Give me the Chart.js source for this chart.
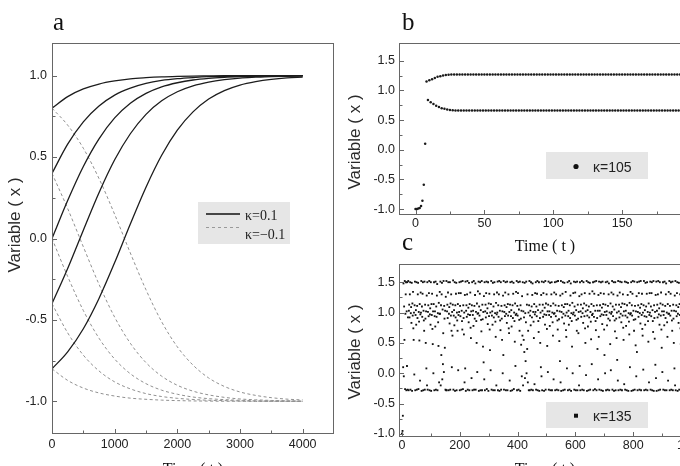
<!DOCTYPE html>
<html>
<head>
<meta charset="utf-8">
<title>Variable x vs time</title>
<script src="https://cdn.jsdelivr.net/npm/chart.js"></script>
<style>
  body { margin: 0; width: 680px; height: 466px; overflow: hidden; background: #fff; position: relative; }
  canvas { position: absolute; }
  #chartA { left: 0; top: 0; }
  #chartB { left: 340px; top: 0; }
  #chartC { left: 340px; top: 240px; }
</style>
</head>
<body>
<canvas id="chartA" width="340" height="466"></canvas>
<canvas id="chartB" width="380" height="262"></canvas>
<canvas id="chartC" width="380" height="226"></canvas>

<script>
// ---- panel a : relaxation curves, kappa = 0.1 (solid) and -0.1 (dashed)
const aTime = [0, 250, 500, 750, 1000, 1250, 1500, 1750, 2000, 2250, 2500, 2750, 3000, 3250, 3500, 3750, 4000];
const aPlus = [
    [0.8, 0.871, 0.918, 0.948, 0.967, 0.980, 0.987, 0.992, 0.995, 0.997, 0.998, 0.999, 0.999, 1.0, 1.0, 1.0, 1.0],
    [0.4, 0.579, 0.716, 0.813, 0.880, 0.923, 0.952, 0.970, 0.981, 0.988, 0.993, 0.995, 0.997, 0.998, 0.999, 0.999, 1.0],
    [0.0, 0.233, 0.442, 0.612, 0.740, 0.830, 0.891, 0.931, 0.956, 0.973, 0.983, 0.989, 0.993, 0.996, 0.997, 0.998, 0.999],
    [-0.4, -0.184, 0.051, 0.281, 0.483, 0.643, 0.762, 0.845, 0.901, 0.937, 0.960, 0.975, 0.985, 0.990, 0.994, 0.996, 0.998],
    [-0.8, -0.696, -0.554, -0.368, -0.148, 0.089, 0.315, 0.511, 0.665, 0.777, 0.856, 0.908, 0.942, 0.963, 0.977, 0.986, 0.991]
];
const aMinus = [
    [0.8, 0.696, 0.554, 0.368, 0.148, -0.089, -0.315, -0.511, -0.665, -0.777, -0.856, -0.908, -0.942, -0.963, -0.977, -0.986, -0.991],
    [0.4, 0.184, -0.051, -0.281, -0.483, -0.643, -0.762, -0.845, -0.901, -0.937, -0.960, -0.975, -0.985, -0.990, -0.994, -0.996, -0.998],
    [0.0, -0.233, -0.442, -0.612, -0.740, -0.830, -0.891, -0.931, -0.956, -0.973, -0.983, -0.989, -0.993, -0.996, -0.997, -0.998, -0.999],
    [-0.4, -0.579, -0.716, -0.813, -0.880, -0.923, -0.952, -0.970, -0.981, -0.988, -0.993, -0.995, -0.997, -0.998, -0.999, -0.999, -1.0],
    [-0.8, -0.871, -0.918, -0.948, -0.967, -0.980, -0.987, -0.992, -0.995, -0.997, -0.998, -0.999, -0.999, -1.0, -1.0, -1.0, -1.0]
];
const aTicksX = [0, 1000, 2000, 3000, 4000];
const aTicksY = [-1.0, -0.5, 0.0, 0.5, 1.0];

// ---- panel b : kappa = 105, one value per time step
const bValues = [
    -1.0, -1.0, -0.99, -0.98, -0.95, -0.86, -0.59, 0.1, 1.15, 0.84,
    1.17, 0.8, 1.19, 0.77, 1.21, 0.74, 1.23, 0.72, 1.24, 0.7,
    1.25, 0.69, 1.26, 0.68, 1.265, 0.67, 1.27, 0.665, 1.27, 0.66,
    1.27, 0.66, 1.27, 0.66, 1.27, 0.66, 1.27, 0.66, 1.27, 0.66, 1.27, 0.66, 1.27, 0.66, 1.27, 0.66, 1.27, 0.66, 1.27, 0.66,
    1.27, 0.66, 1.27, 0.66, 1.27, 0.66, 1.27, 0.66, 1.27, 0.66, 1.27, 0.66, 1.27, 0.66, 1.27, 0.66, 1.27, 0.66, 1.27, 0.66,
    1.27, 0.66, 1.27, 0.66, 1.27, 0.66, 1.27, 0.66, 1.27, 0.66, 1.27, 0.66, 1.27, 0.66, 1.27, 0.66, 1.27, 0.66, 1.27, 0.66,
    1.27, 0.66, 1.27, 0.66, 1.27, 0.66, 1.27, 0.66, 1.27, 0.66, 1.27, 0.66, 1.27, 0.66, 1.27, 0.66, 1.27, 0.66, 1.27, 0.66,
    1.27, 0.66, 1.27, 0.66, 1.27, 0.66, 1.27, 0.66, 1.27, 0.66, 1.27, 0.66, 1.27, 0.66, 1.27, 0.66, 1.27, 0.66, 1.27, 0.66,
    1.27, 0.66, 1.27, 0.66, 1.27, 0.66, 1.27, 0.66, 1.27, 0.66, 1.27, 0.66, 1.27, 0.66, 1.27, 0.66, 1.27, 0.66, 1.27, 0.66,
    1.27, 0.66, 1.27, 0.66, 1.27, 0.66, 1.27, 0.66, 1.27, 0.66, 1.27, 0.66, 1.27, 0.66, 1.27, 0.66, 1.27, 0.66, 1.27, 0.66,
    1.27, 0.66, 1.27, 0.66, 1.27, 0.66, 1.27, 0.66, 1.27, 0.66, 1.27, 0.66, 1.27, 0.66, 1.27, 0.66, 1.27, 0.66, 1.27, 0.66,
    1.27, 0.66, 1.27, 0.66, 1.27, 0.66, 1.27, 0.66, 1.27, 0.66,
    1.27
];
const bTicksX = [0, 50, 100, 150, 200];

// ---- panel c : kappa = 135, sampled every cStep time units
const cStep = 1.1;
const cValues = [
    -1.0, -0.99, -0.95, -0.7, 0.1, 1.48, -0.05, 1.1, 0.55, 1.52, -0.26, 0.98, 1.3, 1.5, -0.28, 1.02, 0.12, 1.5, -0.27, 0.92,
    1.52, -0.28, 1.03, 1.13, 0.92, 1.3, 1.5, -0.27, 0.99, 1.09, 0.83, 1.49, -0.29, 1.15, 0.95, 1.34, 0.74, 0.55, 1.0, -0.02,
    1.12, 1.51, -0.28, 0.96, 1.04, 0.8, 1.5, -0.27, 1.11, 0.91, 1.3, 1.49, -0.26, 1.01, 0.85, 0.54, 1.14, -0.12, 0.97, 1.33,
    1.0, 1.52, -0.29, 1.1, 0.93, 1.31, 1.5, -0.28, 1.03, 0.87, 0.7, 1.51, -0.27, 1.13, 0.9, 0.5, 1.02, 0.08, 1.28, -0.2,
    1.5, -0.27, 1.01, 1.12, 0.94, 1.32, 1.52, -0.28, 0.97, 1.07, 0.8, 1.5, -0.29, 1.14, 0.96, 1.31, 0.73, 0.48, 1.02, 0.0,
    1.14, 1.5, -0.28, 0.94, 1.02, 0.77, 1.51, -0.27, 1.1, 0.93, 1.28, 1.47, -0.28, 0.99, 0.84, 0.45, 1.16, -0.15, 0.98, 1.34,
    0.98, 1.51, -0.2, 1.12, 0.3, 1.3, 1.49, -0.1, 1.05, 0.15, 0.66, 1.52, 0.02, 1.11, 0.9, 0.42, 1.03, -0.27, 1.26, -0.28,
    1.52, -0.28, 1.02, 1.13, 0.91, 1.33, 1.5, -0.28, 0.98, 1.09, 0.82, 1.5, -0.27, 1.15, 0.95, 1.3, 0.7, 0.1, 1.01, 0.62,
    1.13, 1.53, -0.27, 0.95, 1.04, 0.79, 1.5, -0.29, 1.12, 0.92, 1.31, 1.49, -0.28, 1.0, 0.87, 0.7, 1.14, 0.05, 0.96, 1.32,
    1.01, 1.5, -0.28, 1.11, 0.94, 1.32, 1.51, -0.27, 1.03, 0.86, 0.72, 1.52, -0.26, 1.12, 0.91, 0.64, 1.0, -0.15, 1.29, 0.08,
    1.51, -0.29, 1.03, 1.12, 0.93, 1.3, 1.52, -0.27, 0.97, 1.08, 0.84, 1.49, -0.28, 1.14, 0.96, 1.33, 0.75, 0.58, 1.02, -0.08,
    1.12, 1.5, -0.28, 0.96, 1.03, 0.78, 1.52, -0.27, 1.11, 0.9, 1.29, 1.48, -0.27, 1.01, 0.86, 0.5, 1.15, 0.02, 0.98, 1.35,
    0.99, 1.51, -0.29, 1.1, 0.95, 1.31, 1.5, -0.28, 1.04, 0.88, 0.69, 1.52, -0.28, 1.13, 0.89, 0.44, 1.01, 0.18, 1.27, -0.1,
    1.5, -0.28, 1.02, 1.13, 0.92, 1.32, 1.51, -0.26, 0.99, 1.07, 0.81, 1.5, -0.29, 1.15, 0.94, 1.31, 0.72, 0.38, 1.0, 0.05,
    1.14, 1.52, -0.27, 0.95, 1.02, 0.8, 1.49, -0.28, 1.1, 0.92, 1.3, 1.5, -0.28, 0.99, 0.85, 0.6, 1.16, -0.2, 0.97, 1.33,
    1.0, 1.51, -0.28, 1.12, 0.93, 1.3, 1.52, -0.29, 1.03, 0.87, 0.71, 1.5, -0.27, 1.11, 0.9, 0.55, 1.02, 0.0, 1.28, 0.3,
    1.52, -0.27, 1.01, 1.12, 0.94, 1.33, 1.5, -0.28, 0.98, 1.09, 0.83, 1.51, -0.28, 1.14, 0.95, 1.3, 0.74, 0.66, 1.01, -0.12,
    1.13, 1.5, -0.29, 0.94, 1.04, 0.77, 1.51, -0.28, 1.12, 0.91, 1.31, 1.49, -0.26, 1.0, 0.86, 0.52, 1.15, 0.12, 0.96, 1.34,
    0.98, 1.52, -0.28, 1.11, 0.95, 1.32, 1.5, -0.27, 1.05, 0.88, 0.7, 1.51, -0.29, 1.12, 0.9, 0.47, 1.03, -0.05, 1.27, 0.62,
    1.5, -0.2, 1.02, 0.55, 0.92, 0.35, 1.49, -0.08, 0.99, 0.2, 0.84, 1.51, 0.0, 1.13, 0.4, 1.3, -0.15, 0.7, 1.0, -0.28,
    1.12, 1.52, -0.28, 0.95, 1.03, 0.79, 1.5, -0.27, 1.1, 0.92, 1.29, 1.48, -0.28, 1.01, 0.85, 0.58, 1.14, -0.18, 0.97, 1.32,
    1.01, 1.5, -0.27, 1.1, 0.94, 1.31, 1.52, -0.28, 1.04, 0.86, 0.68, 1.5, -0.29, 1.13, 0.91, 0.5, 1.0, 0.1, 1.29, -0.05,
    1.51, -0.28, 1.03, 1.13, 0.93, 1.32, 1.5, -0.29, 0.97, 1.08, 0.8, 1.52, -0.27, 1.15, 0.96, 1.3, 0.73, 0.45, 1.02, 0.02,
    1.13, 1.51, -0.27, 0.96, 1.02, 0.78, 1.49, -0.28, 1.11, 0.93, 1.3, 1.5, -0.28, 1.0, 0.84, 0.62, 1.15, -0.1, 0.98, 1.33,
    0.99, 1.5, -0.28, 1.12, 0.94, 1.3, 1.51, -0.27, 1.03, 0.87, 0.72, 1.52, -0.28, 1.11, 0.89, 0.53, 1.02, 0.2, 1.28, -0.15,
    1.52, -0.29, 1.01, 1.12, 0.92, 1.31, 1.5, -0.28, 0.98, 1.09, 0.82, 1.49, -0.27, 1.14, 0.95, 1.34, 0.71, 0.6, 1.0, 0.08,
    1.14, 1.5, -0.28, 0.94, 1.03, 0.8, 1.52, -0.27, 1.12, 0.91, 1.28, 1.48, -0.29, 0.99, 0.86, 0.44, 1.16, 0.0, 0.97, 1.32,
    1.0, 1.51, -0.27, 1.1, 0.95, 1.33, 1.5, -0.28, 1.04, 0.88, 0.7, 1.51, -0.28, 1.13, 0.9, 0.66, 1.01, -0.2, 1.27, 0.12,
    1.5, -0.28, 1.02, 1.13, 0.93, 1.3, 1.52, -0.27, 0.99, 1.07, 0.83, 1.5, -0.28, 1.15, 0.94, 1.32, 0.74, 0.5, 1.02, -0.03,
    1.12, 1.52, -0.29, 0.95, 1.04, 0.77, 1.5, -0.28, 1.1, 0.92, 1.31, 1.49, -0.27, 1.01, 0.85, 0.56, 1.14, 0.15, 0.96, 1.35,
    0.98, 1.5, -0.28, 1.11, 0.93, 1.31, 1.51, -0.26, 1.03, 0.86, 0.71, 1.52, -0.28, 1.12, 0.91, 0.4, 1.03, -0.1, 1.29, 0.6,
    1.51, -0.27, 1.03, 1.12, 0.94, 1.32, 1.5, -0.28, 0.97, 1.08, 0.81, 1.51, -0.29, 1.14, 0.96, 1.31, 0.72, 0.3, 1.01, 0.0,
    1.13, 1.5, -0.28, 0.96, 1.02, 0.79, 1.51, -0.27, 1.11, 0.9, 1.3, 1.48, -0.28, 1.0, 0.87, 0.48, 1.15, 0.05, 0.98, 1.33,
    1.01, 1.52, -0.27, 1.1, 0.94, 1.3, 1.5, -0.29, 1.05, 0.87, 0.69, 1.5, -0.28, 1.13, 0.9, 0.58, 1.0, 0.22, 1.28, -0.12,
    1.52, -0.28, 1.02, 1.13, 0.92, 1.33, 1.51, -0.27, 0.98, 1.09, 0.84, 1.5, -0.28, 1.15, 0.95, 1.3, 0.75, 0.55, 1.02, -0.18,
    1.14, 1.51, -0.27, 0.95, 1.03, 0.78, 1.5, -0.28, 1.12, 0.92, 1.29, 1.49, -0.29, 0.99, 0.85, 0.64, 1.16, 0.1, 0.97, 1.34,
    0.99, 1.5, -0.29, 1.12, 0.95, 1.31, 1.52, -0.28, 1.03, 0.88, 0.7, 1.51, -0.27, 1.11, 0.89, 0.46, 1.02, -0.05, 1.27, 0.35,
    1.5, -0.28, 1.01, 1.12, 0.93, 1.32, 1.51, -0.27, 0.99, 1.08, 0.82, 1.52, -0.28, 1.14, 0.96, 1.31, 0.73, 0.62, 1.0, 0.06,
    1.12, 1.52, -0.28, 0.94, 1.04, 0.8, 1.49, -0.27, 1.1, 0.93, 1.31, 1.5, -0.28, 1.01, 0.86, 0.52, 1.15, -0.15, 0.96, 1.32,
    1.0, 1.51, -0.27, 1.1, 0.94, 1.32, 1.5, -0.28, 1.04, 0.86, 0.68, 1.52, -0.29, 1.12, 0.91, 0.57, 1.01, 0.14, 1.29, -0.08,
    1.51, -0.29, 1.03, 1.13, 0.92, 1.3, 1.52, -0.28, 0.97, 1.07, 0.8, 1.5, -0.27, 1.15, 0.95, 1.33, 0.72, 0.42, 1.02, 0.02,
    1.13, 1.5, -0.27, 0.96, 1.02, 0.79, 1.51, -0.28, 1.11, 0.91, 1.3, 1.48, -0.28, 1.0, 0.84, 0.6, 1.14, -0.12, 0.98, 1.34,
    0.98, 1.52, -0.28, 1.11, 0.95, 1.31, 1.5, -0.27, 1.03, 0.87, 0.7, 1.51, -0.28, 1.13, 0.9, 0.5, 1.03, 0.08, 1.28, -0.2,
    1.52, -0.28, 1.02, 1.12, 0.94, 1.32, 1.5, -0.29, 0.98, 1.09, 0.83, 1.49, -0.27, 1.14, 0.96, 1.3, 0.74, 0.48, 1.01, -0.06,
    1.14, 1.51, -0.28, 0.95, 1.03, 0.77, 1.5, -0.27, 1.12, 0.92, 1.29, 1.5, -0.28, 0.99, 0.86, 0.55, 1.15, 0.18, 0.97, 1.33
];
const cTicksX = [0, 200, 400, 600, 800, 1000];
const bcTicksY = [-1.0, -0.5, 0.0, 0.5, 1.0, 1.5];

const SANS = 'Liberation Sans';
const SERIF = 'Liberation Serif';

// frame with inward ticks (Origin style) + free text per panel
function decor(o) {
    return {
        id: 'decor',
        afterDraw(chart) {
            const { ctx, chartArea: ca } = chart;
            const sx = chart.scales.x, sy = chart.scales.y;
            ctx.save();
            ctx.strokeStyle = '#666';
            ctx.lineWidth = 1;
            ctx.strokeRect(ca.left + 0.5, ca.top + 0.5, ca.right - ca.left - 1, ca.bottom - ca.top - 1);
            ctx.beginPath();
            const tickSet = (list, fn) => {
                list.forEach((v, i) => {
                    fn(v, 4);
                    if (i < list.length - 1) fn((v + list[i + 1]) / 2, 2.5);
                });
            };
            tickSet(o.xTicks, (v, len) => {
                const px = Math.round(sx.getPixelForValue(v)) + 0.5;
                ctx.moveTo(px, ca.bottom - 1);
                ctx.lineTo(px, ca.bottom - 1 - len);
            });
            tickSet(o.yTicks, (v, len) => {
                const py = Math.round(sy.getPixelForValue(v)) + 0.5;
                ctx.moveTo(ca.left + 1, py);
                ctx.lineTo(ca.left + 1 + len, py);
            });
            ctx.stroke();
            ctx.restore();
            ctx.save();
            o.extra(ctx);
            ctx.restore();
        }
    };
}

function txt(ctx, s, x, y, font, align, color) {
    ctx.font = font;
    ctx.textAlign = align || 'left';
    ctx.textBaseline = 'alphabetic';
    ctx.fillStyle = color || '#111';
    ctx.fillText(s, x, y);
}

function yTitle(ctx, x, y) {
    ctx.save();
    ctx.translate(x, y);
    ctx.rotate(-Math.PI / 2);
    ctx.font = '17px ' + SANS;
    ctx.textAlign = 'center';
    ctx.textBaseline = 'middle';
    ctx.fillStyle = '#2a2a2a';
    ctx.fillText('Variable ( x )', 0, 0);
    ctx.restore();
}

function scalesFor(o) {
    return {
        x: {
            type: 'linear', min: o.xMin, max: o.xMax,
            grid: { display: false, drawTicks: false }, border: { display: false },
            ticks: { font: { family: SANS, size: 12.5 }, color: '#222', padding: o.xPad, maxRotation: 0, autoSkip: false,
                     callback: v => String(v) },
            afterBuildTicks: s => { s.ticks = o.xTicks.map(v => ({ value: v })); },
            afterFit: s => { s.height = o.xH; }
        },
        y: {
            type: 'linear', min: o.yMin, max: o.yMax,
            grid: { display: false, drawTicks: false }, border: { display: false },
            ticks: { font: { family: SANS, size: 12.5 }, color: '#222', padding: o.yPad, autoSkip: false,
                     callback: v => v.toFixed(1) },
            afterBuildTicks: s => { s.ticks = o.yTicks.map(v => ({ value: v })); },
            afterFit: s => { s.width = o.yW; }
        }
    };
}

const common = {
    responsive: false,
    animation: false,
    events: [],
    plugins: { legend: { display: false }, tooltip: { enabled: false } }
};

// ---- chart a
const aSets = [];
aPlus.forEach(vals => aSets.push({
    data: vals.map((v, i) => ({ x: aTime[i], y: v })),
    borderColor: '#1c1c1c', borderWidth: 1.3, pointRadius: 0, cubicInterpolationMode: 'monotone'
}));
aMinus.forEach(vals => aSets.push({
    data: vals.map((v, i) => ({ x: aTime[i], y: v })),
    borderColor: '#909090', borderWidth: 1, borderDash: [3, 2.5], pointRadius: 0, cubicInterpolationMode: 'monotone'
}));

new Chart(document.getElementById('chartA'), {
    type: 'line',
    data: { datasets: aSets },
    options: Object.assign({}, common, {
        layout: { padding: { left: 0, top: 43, right: 6, bottom: 0 } },
        scales: scalesFor({ xMin: 0, xMax: 4500, yMin: -1.2, yMax: 1.2, xTicks: aTicksX, yTicks: aTicksY,
                            xH: 32, yW: 52, xPad: 3, yPad: 5 })
    }),
    plugins: [decor({
        xTicks: aTicksX, yTicks: aTicksY,
        extra(ctx) {
            txt(ctx, 'a', 53, 30, '25px ' + SERIF);
            yTitle(ctx, 15, 225);
            txt(ctx, 'Time ( t )', 193, 474, '16px ' + SERIF, 'center');
            ctx.fillStyle = '#e6e6e6';
            ctx.fillRect(198, 202, 92, 42);
            ctx.strokeStyle = '#111';
            ctx.lineWidth = 1.5;
            ctx.beginPath(); ctx.moveTo(206, 214); ctx.lineTo(240, 214); ctx.stroke();
            ctx.strokeStyle = '#999';
            ctx.lineWidth = 1;
            ctx.setLineDash([3, 3]);
            ctx.beginPath(); ctx.moveTo(206, 227.5); ctx.lineTo(240, 227.5); ctx.stroke();
            ctx.setLineDash([]);
            txt(ctx, 'κ=0.1', 245, 220, '14px ' + SERIF, 'left', '#222');
            txt(ctx, 'κ=−0.1', 245, 239, '14px ' + SERIF, 'left', '#222');
        }
    })]
});

// ---- chart b
new Chart(document.getElementById('chartB'), {
    type: 'scatter',
    data: { datasets: [{
        data: bValues.map((v, i) => ({ x: i, y: v })),
        backgroundColor: '#1a1a1a', borderWidth: 0, pointRadius: 1.25
    }] },
    options: Object.assign({}, common, {
        layout: { padding: { left: 0, top: 43, right: 29, bottom: 0 } },
        scales: scalesFor({ xMin: -12, xMax: 200, yMin: -1.1, yMax: 1.8, xTicks: bTicksX, yTicks: bcTicksY,
                            xH: 47, yW: 59, xPad: 1, yPad: 4 })
    }),
    plugins: [decor({
        xTicks: bTicksX, yTicks: bcTicksY,
        extra(ctx) {
            txt(ctx, 'b', 62, 30, '25px ' + SERIF);
            yTitle(ctx, 15, 142);
            txt(ctx, 'Time ( t )', 205, 251, '16px ' + SERIF, 'center');
            txt(ctx, 'c', 62, 250, '25px ' + SERIF);
            ctx.fillStyle = '#e6e6e6';
            ctx.fillRect(206, 152, 102, 27);
            ctx.fillStyle = '#111';
            ctx.beginPath(); ctx.arc(236, 166.5, 2.6, 0, Math.PI * 2); ctx.fill();
            txt(ctx, 'κ=105', 253, 171.5, '14px ' + SANS, 'left', '#222');
        }
    })]
});

// ---- chart c
new Chart(document.getElementById('chartC'), {
    type: 'scatter',
    data: { datasets: [{
        data: cValues.map((v, i) => ({ x: i * cStep, y: v })),
        backgroundColor: '#111', borderWidth: 0, pointRadius: 1.3, pointStyle: 'rect'
    }] },
    options: Object.assign({}, common, {
        layout: { padding: { left: 0, top: 24, right: 29, bottom: 0 } },
        scales: scalesFor({ xMin: -10, xMax: 1000, yMin: -1.05, yMax: 1.8, xTicks: cTicksX, yTicks: bcTicksY,
                            xH: 29, yW: 59, xPad: 1, yPad: 4 })
    }),
    plugins: [decor({
        xTicks: cTicksX, yTicks: bcTicksY,
        extra(ctx) {
            yTitle(ctx, 15, 112);
            txt(ctx, 'Time ( t )', 205, 234, '16px ' + SERIF, 'center');
            ctx.fillStyle = '#e6e6e6';
            ctx.fillRect(206, 162, 102, 26);
            ctx.fillStyle = '#111';
            ctx.fillRect(234, 173.7, 4, 4);
            txt(ctx, 'κ=135', 253, 181, '14px ' + SANS, 'left', '#222');
        }
    })]
});
</script>
</body>
</html>
